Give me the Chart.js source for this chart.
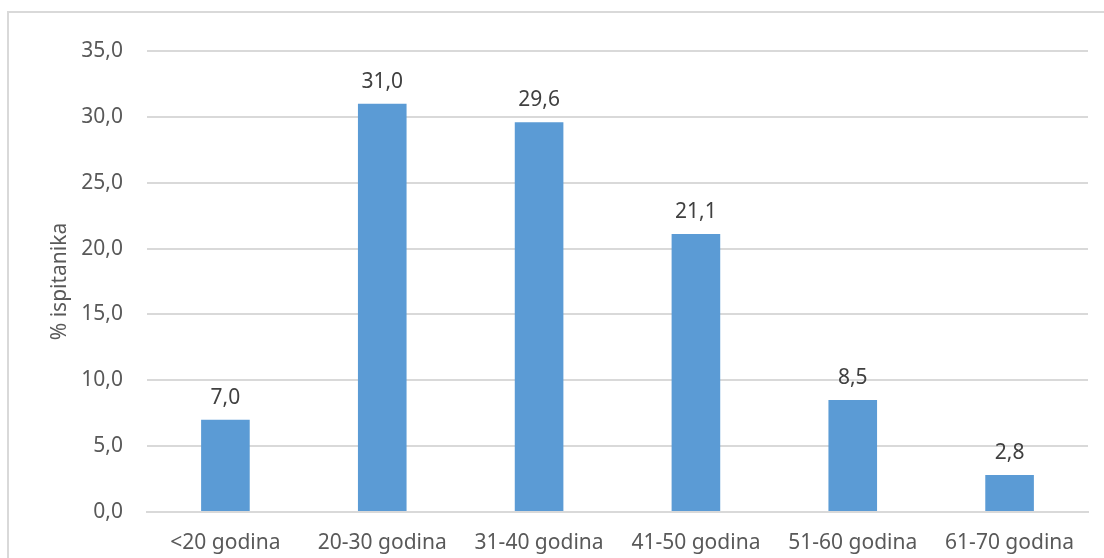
<!DOCTYPE html>
<html>
<head>
<meta charset="utf-8">
<script src="https://cdn.jsdelivr.net/npm/chart.js@4/dist/chart.umd.min.js"></script>
<style>
  html, body { margin: 0; padding: 0; background: #fff; overflow: hidden; }
  #wrap { position: relative; width: 1104px; height: 558px; }
  #okvir { position: absolute; left: 7px; top: 11px; right: -10px; bottom: -10px;
           border-left: 2px solid #d9d9d9; border-top: 2px solid #d9d9d9; }
</style>
</head>
<body>
<div id="wrap">
  <div id="okvir"></div>
  <canvas id="myChart" width="1104" height="558"></canvas>
</div>
<script>
// kategorije i vrijednosti
const kategorije = ['<20 godina', '20-30 godina', '31-40 godina', '41-50 godina', '51-60 godina', '61-70 godina'];
const postoci = [7.0, 31.0, 29.6, 21.1, 8.5, 2.8];
const naslovY = '% ispitanika';

const FONT = "'Noto Sans', 'Open Sans', sans-serif";

function formatBroja(v) {
    return Number(v).toFixed(1).replace('.', ',');
}

// plugin za oznake iznad stupaca
const oznake = {
    id: 'oznake',
    afterDatasetsDraw(chart) {
        const ctx = chart.ctx;
        const meta = chart.getDatasetMeta(0);
        ctx.save();
        ctx.font = '21px ' + FONT;
        ctx.fillStyle = '#404040';
        ctx.textAlign = 'center';
        ctx.textBaseline = 'alphabetic';
        meta.data.forEach((bar, i) => {
            ctx.fillText(formatBroja(postoci[i]), bar.x, bar.y - 16);
        });
        ctx.restore();
    }
};

window.onload = function() {
    new Chart(document.getElementById('myChart'), {
        type: 'bar',
        data: {
            labels: kategorije,
            datasets: [{
                data: postoci,
                backgroundColor: '#5B9BD5',
                borderWidth: 0,
                barPercentage: 0.31,
                categoryPercentage: 1.0
            }]
        },
        options: {
            responsive: false,
            animation: false,
            devicePixelRatio: 1,
            layout: { padding: { left: 0, top: 51, right: 16, bottom: 0 } },
            plugins: {
                legend: { display: false },
                tooltip: { enabled: false }
            },
            scales: {
                x: {
                    grid: { display: false, drawTicks: false },
                    border: { color: '#d9d9d9', width: 2 },
                    ticks: { color: '#595959', font: { family: FONT, size: 21 }, padding: 18, maxRotation: 0 },
                    afterFit(s) { s.height = 46; }
                },
                y: {
                    min: 0,
                    max: 35,
                    ticks: {
                        stepSize: 5,
                        color: '#595959',
                        padding: 24,
                        font: { family: FONT, size: 21 },
                        callback: (v) => formatBroja(v)
                    },
                    grid: { color: '#d9d9d9', lineWidth: 2, drawTicks: false },
                    border: { display: false },
                    title: {
                        display: true,
                        text: naslovY,
                        color: '#595959',
                        font: { family: FONT, size: 21 },
                        padding: { top: 47, bottom: 0 }
                    },
                    afterFit(s) { s.width = 147; }
                }
            }
        },
        plugins: [oznake]
    });
};
</script>
</body>
</html>
